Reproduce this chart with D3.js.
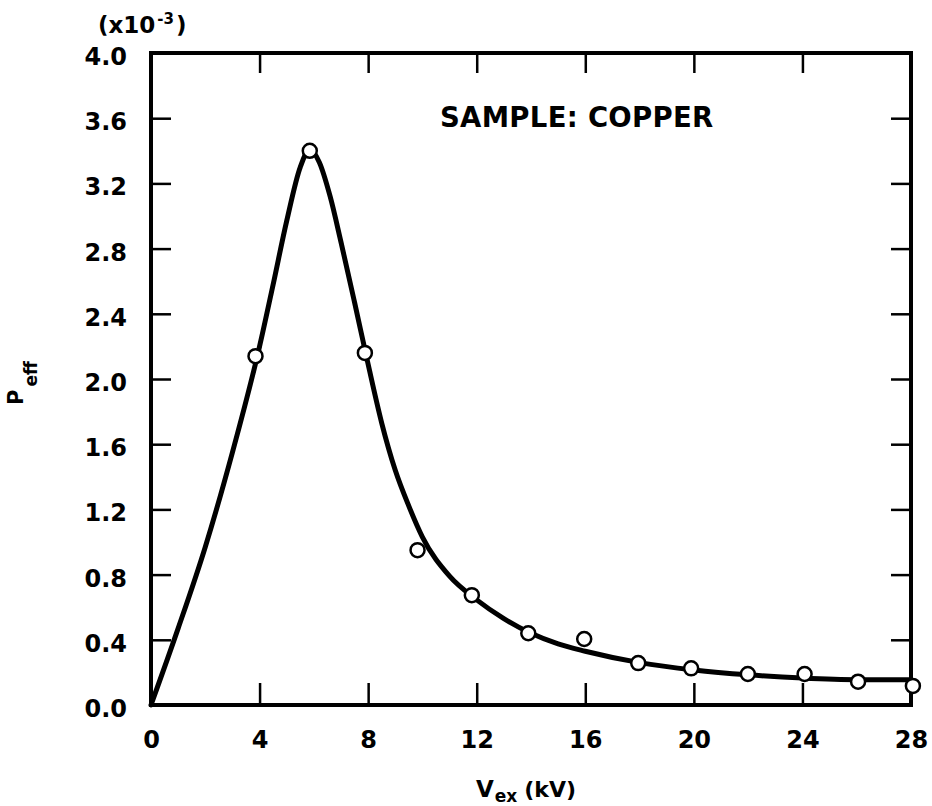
<!DOCTYPE html>
<html>
<head>
<meta charset="utf-8">
<script src="https://cdn.jsdelivr.net/npm/d3@7"></script>
<style>
  html, body { margin: 0; padding: 0; background: #fff; }
  svg { display: block; }
  text { font-family: "DejaVu Sans", sans-serif; font-weight: bold; fill: #000; }
</style>
</head>
<body>
<svg id="chart" width="932" height="806"></svg>
<script>
// Measured data points (V_ex in kV, P_eff in units of 1e-3)
const pointX = [3.85, 5.85, 7.88, 9.82, 11.82, 13.9, 15.96, 17.95, 19.9, 21.99, 24.08, 26.05, 28.07];
const pointY = [2.14, 3.40, 2.16, 0.95, 0.674, 0.44, 0.405, 0.257, 0.225, 0.19, 0.19, 0.143, 0.117];

// Fitted curve
const curveX = [0, 1, 2, 3, 4, 4.5, 5, 5.5, 5.85, 6.2, 6.6, 7, 7.5, 8, 8.5, 9, 9.5, 10, 11, 12, 13, 14, 15, 16, 18, 20, 22, 24, 26, 28];
const curveY = [0, 0.47, 0.97, 1.55, 2.20, 2.58, 2.97, 3.30, 3.41, 3.33, 3.12, 2.84, 2.47, 2.09, 1.73, 1.44, 1.22, 1.03, 0.79, 0.645, 0.53, 0.44, 0.375, 0.33, 0.26, 0.215, 0.185, 0.165, 0.155, 0.155];

const xTicks = [0, 4, 8, 12, 16, 20, 24, 28];
const yTicks = [0, 0.4, 0.8, 1.2, 1.6, 2.0, 2.4, 2.8, 3.2, 3.6, 4.0];

const svg = d3.select("#chart");
const L = 151, R = 911, T = 53, B = 705;

const x = d3.scaleLinear().domain([0, 28]).range([L, R]);
const y = d3.scaleLinear().domain([0, 4.0]).range([B, T]);

const tickLen = 20;

// bottom axis with labels
const xAxisB = d3.axisBottom(x).tickValues(xTicks).tickSizeInner(-22).tickSizeOuter(0)
  .tickPadding(30).tickFormat(d3.format("d"));
const gxb = svg.append("g").attr("transform", `translate(0,${B})`).call(xAxisB);
gxb.select(".domain").remove();
gxb.selectAll(".tick line").attr("stroke", "#000").attr("stroke-width", 2.5);
gxb.selectAll(".tick text").attr("font-size", 24).attr("fill", "#000")
  .attr("font-family", "DejaVu Sans, sans-serif").attr("font-weight", "bold")
  .attr("dy", "0.55em");

// top axis ticks
const xAxisT = d3.axisTop(x).tickValues(xTicks).tickSizeInner(-tickLen).tickSizeOuter(0).tickFormat("");
const gxt = svg.append("g").attr("transform", `translate(0,${T})`).call(xAxisT);
gxt.select(".domain").remove();
gxt.selectAll(".tick line").attr("stroke", "#000").attr("stroke-width", 2.5);

// left axis with labels
const yAxisL = d3.axisLeft(y).tickValues(yTicks).tickSizeInner(-tickLen).tickSizeOuter(0)
  .tickPadding(24).tickFormat(d3.format(".1f"));
const gyl = svg.append("g").attr("transform", `translate(${L},0)`).call(yAxisL);
gyl.select(".domain").remove();
gyl.selectAll(".tick line").attr("stroke", "#000").attr("stroke-width", 2.5);
gyl.selectAll(".tick text").attr("font-size", 24).attr("fill", "#000")
  .attr("font-family", "DejaVu Sans, sans-serif").attr("font-weight", "bold")
  .attr("dy", "0.48em");

// right axis ticks
const yAxisR = d3.axisRight(y).tickValues(yTicks).tickSizeInner(-tickLen).tickSizeOuter(0).tickFormat("");
const gyr = svg.append("g").attr("transform", `translate(${R},0)`).call(yAxisR);
gyr.select(".domain").remove();
gyr.selectAll(".tick line").attr("stroke", "#000").attr("stroke-width", 2.5);

// frame
svg.append("rect")
  .attr("x", L).attr("y", T).attr("width", R - L).attr("height", B - T)
  .attr("fill", "none").attr("stroke", "#000").attr("stroke-width", 4);

// curve
const curveData = curveX.map((v, i) => [v, curveY[i]]);
const line = d3.line().x(d => x(d[0])).y(d => y(d[1])).curve(d3.curveMonotoneX);
svg.append("path").datum(curveData)
  .attr("d", line).attr("fill", "none").attr("stroke", "#000")
  .attr("stroke-width", 5).attr("stroke-linejoin", "round").attr("stroke-linecap", "round");

// points
const pts = pointX.map((v, i) => [v, pointY[i]]);
svg.append("g").selectAll("circle").data(pts).join("circle")
  .attr("cx", d => x(d[0])).attr("cy", d => y(d[1])).attr("r", 7)
  .attr("fill", "#fff").attr("stroke", "#000").attr("stroke-width", 2.5);

// multiplier label
const mult = svg.append("text").attr("x", 98).attr("y", 33).attr("font-size", 23);
mult.append("tspan").text("(x10");
mult.append("tspan").attr("font-size", 15).attr("dy", -9).attr("dx", 2).text("-3");
mult.append("tspan").attr("dy", 9).attr("dx", 2).text(")");

// sample label
svg.append("text").attr("x", 440).attr("y", 127).attr("font-size", 27.5)
  .attr("letter-spacing", 0.3).text("SAMPLE: COPPER");

// x axis title
const xt = svg.append("text").attr("x", 476).attr("y", 797).attr("font-size", 23);
xt.append("tspan").text("V");
xt.append("tspan").attr("font-size", 17).attr("dy", 5).attr("dx", 1).text("ex");
xt.append("tspan").attr("dy", -5).attr("dx", 7).attr("font-size", 22).text("(kV)");

// y axis title
const yt = svg.append("text").attr("transform", "translate(23,405) rotate(-90)").attr("font-size", 21);
yt.append("tspan").text("P");
yt.append("tspan").attr("font-size", 17).attr("dy", 14).attr("dx", 3).text("eff");
</script>
</body>
</html>
